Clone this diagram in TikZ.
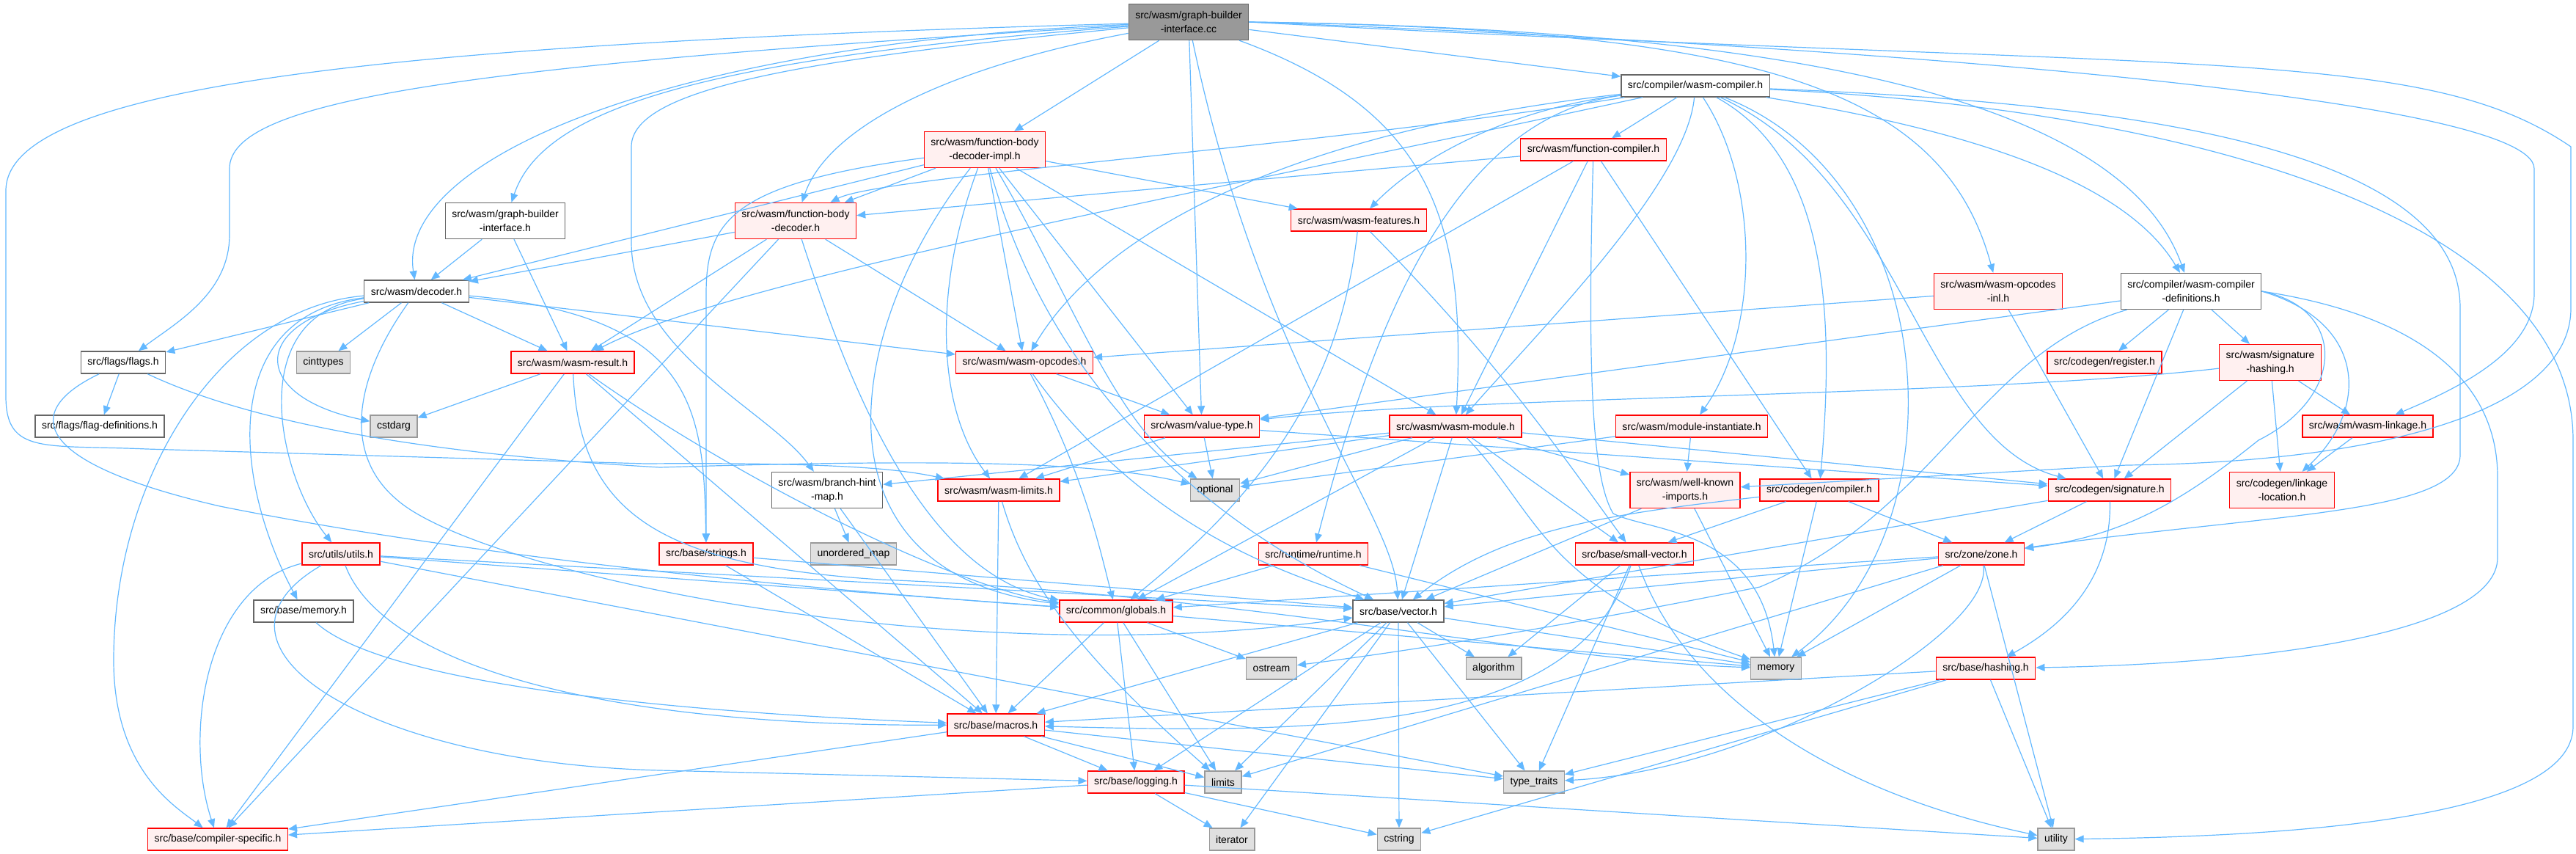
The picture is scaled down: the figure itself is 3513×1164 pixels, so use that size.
\documentclass[tikz,border=0pt]{standalone}
\usepackage{fontspec}
\newfontfamily\graphfont{Liberation Sans}
\usepackage{tikz}
\usetikzlibrary{arrows.meta}
\usepackage{xcolor}
\definecolor{depblue}{HTML}{63B8FF}
\definecolor{hdrfill}{HTML}{FFF0F0}
\definecolor{sysfill}{HTML}{E0E0E0}
\definecolor{sysline}{HTML}{999999}
\definecolor{plainline}{HTML}{666666}
\definecolor{rootfill}{HTML}{999999}

\begin{document}
\begin{tikzpicture}[x=1pt, y=-1pt,
  box/.style={draw, line width=1.4pt, inner xsep=9pt, inner ysep=0pt,
              minimum height=30pt, align=center,
              font=\graphfont\fontsize{14}{19}\selectfont},
  hdr/.style={box, draw=red, fill=hdrfill},
  sys/.style={box, draw=sysline, fill=sysfill},
  plainbox/.style={box, draw=plainline, fill=white},
  rootbox/.style={box, draw=plainline, fill=rootfill},
  tall/.style={minimum height=49pt},
  dep/.style={depblue, line width=1.2pt, -{Triangle[length=12pt, width=10pt]}}
]
  \useasboundingbox (0,0) rectangle (3513,1164);

  % headers
  \node[rootbox, tall] (root) at (1621,30) {src/wasm/graph-builder\\-interface.cc};
  \node[plainbox] (wcomp) at (2312,117) {src/compiler/wasm-compiler.h};
  \node[hdr, tall] (fbdimpl) at (1343,204) {src/wasm/function-body\\-decoder-impl.h};
  \node[hdr] (fcomp) at (2173,204) {src/wasm/function-compiler.h};
  \node[plainbox, tall] (gbih) at (689,301) {src/wasm/graph-builder\\-interface.h};
  \node[hdr, tall] (fbd) at (1085,301) {src/wasm/function-body\\-decoder.h};
  \node[hdr] (wfeat) at (1853,300) {src/wasm/wasm-features.h};
  \node[hdr, tall] (opinl) at (2725,397) {src/wasm/wasm-opcodes\\-inl.h};
  \node[plainbox, tall] (wcdefs) at (2988,397) {src/compiler/wasm-compiler\\-definitions.h};
  \node[plainbox] (decoder) at (568,397) {src/wasm/decoder.h};
  \node[plainbox] (flags) at (168,494) {src/flags/flags.h};
  \node[sys] (cinttypes) at (441,494) {cinttypes};
  \node[hdr] (wresult) at (781,494) {src/wasm/wasm-result.h};
  \node[hdr] (opcodes) at (1397,494) {src/wasm/wasm-opcodes.h};
  \node[hdr] (register) at (2870,494) {src/codegen/register.h};
  \node[hdr, tall] (sighash) at (3096,494) {src/wasm/signature\\-hashing.h};
  \node[plainbox] (flagdefs) at (136,581) {src/flags/flag-definitions.h};
  \node[sys] (cstdarg) at (537,581) {cstdarg};
  \node[hdr] (valtype) at (1639,581) {src/wasm/value-type.h};
  \node[hdr] (wmodule) at (1985,581) {src/wasm/wasm-module.h};
  \node[hdr] (instantiate) at (2307,581) {src/wasm/module-instantiate.h};
  \node[hdr] (wlinkage) at (3229,581) {src/wasm/wasm-linkage.h};
  \node[plainbox, tall] (bhint) at (1128,668) {src/wasm/branch-hint\\-map.h};
  \node[hdr] (wlimits) at (1362,668) {src/wasm/wasm-limits.h};
  \node[sys] (optional) at (1657,668) {optional};
  \node[hdr, tall] (wkimports) at (2298,668) {src/wasm/well-known\\-imports.h};
  \node[hdr] (cgcompiler) at (2481,668) {src/codegen/compiler.h};
  \node[hdr] (signature) at (2877,668) {src/codegen/signature.h};
  \node[hdr, tall] (linkloc) at (3112,668) {src/codegen/linkage\\-location.h};
  \node[hdr] (utils) at (465,755) {src/utils/utils.h};
  \node[hdr] (strings) at (963,755) {src/base/strings.h};
  \node[sys] (umap) at (1164,755) {unordered\_map};
  \node[hdr] (runtime) at (1791,755) {src/runtime/runtime.h};
  \node[hdr] (smallvec) at (2229,755) {src/base/small-vector.h};
  \node[hdr] (zone) at (2702,755) {src/zone/zone.h};
  \node[plainbox] (bmemory) at (414,833) {src/base/memory.h};
  \node[hdr] (globals) at (1522,833) {src/common/globals.h};
  \node[plainbox] (vector) at (1907,833) {src/base/vector.h};
  \node[sys] (ostream) at (1734,911) {ostream};
  \node[sys] (algorithm) at (2037,911) {algorithm};
  \node[sys] (memory) at (2422,911) {memory};
  \node[hdr] (hashing) at (2708,911) {src/base/hashing.h};
  \node[hdr] (macros) at (1358,988) {src/base/macros.h};
  \node[hdr] (logging) at (1549,1066) {src/base/logging.h};
  \node[sys] (limits) at (1668,1066) {limits};
  \node[sys] (typetraits) at (2092,1066) {type\_traits};
  \node[hdr] (cspecific) at (297,1144) {src/base/compiler-specific.h};
  \node[sys] (iterator) at (1680,1144) {iterator};
  \node[sys] (cstring) at (1908,1144) {cstring};
  \node[sys] (utility) at (2804,1144) {utility};

  % graph-builder-interface.cc
  \draw[dep] (root) .. controls (950,80) and (740,150) .. (gbih);
  \draw[dep] (root) .. controls (900,60) and (540,220) .. (decoder);
  \draw[dep] (root) .. controls (600,90) and (313,140) .. (313,230) -- (313,320)
    .. controls (313,400) and (240,440) .. (flags);
  \draw[dep] (root) .. controls (500,60) and (8,120) .. (8,260) -- (8,540)
    .. controls (8,620) and (60,606) .. (200,612) -- (880,632)
    .. controls (1150,630) and (1230,640) .. (wlimits);
  \draw[dep] (root) .. controls (1100,80) and (861,120) .. (861,200) -- (861,330)
    .. controls (861,480) and (1050,560) .. (bhint);
  \draw[dep] (root) .. controls (1300,90) and (1130,170) .. (fbd);
  \draw[dep] (root) -- (fbdimpl);
  \draw[dep] (root) -- (valtype);
  \draw[dep] (root) .. controls (1720,500) and (1900,700) .. (vector);
  \draw[dep] (root) .. controls (1950,150) and (2000,300) .. (wmodule);
  \draw[dep] (root) -- (wcomp);
  \draw[dep] (root.east) .. controls (2400,40) and (2650,120) .. (opinl);
  \draw[dep] (root.east) .. controls (2500,40) and (2900,150) .. (wcdefs);
  \draw[dep] (root.east) .. controls (2500,60) and (3456,130) .. (3456,230) -- (3456,400)
    .. controls (3456,480) and (3350,530) .. (wlinkage);
  \draw[dep] (root.east) .. controls (3000,100) and (3300,60) .. (3506,200) -- (3506,420)
    .. controls (3506,560) and (3250,630) .. (2900,634) -- (wkimports);

  % compiler/wasm-compiler.h
  \draw[dep] (wcomp) -- (fcomp);
  \draw[dep] (wcomp) .. controls (2050,150) and (1930,220) .. (wfeat);
  \draw[dep] (wcomp) .. controls (1800,200) and (1200,240) .. (fbd);
  \draw[dep] (wcomp) .. controls (1750,180) and (1500,320) .. (opcodes);
  \draw[dep] (wcomp) .. controls (1700,250) and (1000,380) .. (wresult);
  \draw[dep] (wcomp) .. controls (2300,250) and (2100,450) .. (wmodule);
  \draw[dep] (wcomp) .. controls (1980,160) and (1870,450) .. (runtime);
  \draw[dep] (wcomp) .. controls (2400,250) and (2400,450) .. (instantiate);
  \draw[dep] (wcomp) .. controls (2500,220) and (2500,450) .. (cgcompiler);
  \draw[dep] (wcomp) .. controls (2650,250) and (2680,720) .. (memory);
  \draw[dep] (wcomp) .. controls (2600,250) and (2620,600) .. (signature);
  \draw[dep] (wcomp) .. controls (2700,180) and (2900,250) .. (wcdefs);
  \draw[dep] (wcomp) .. controls (2900,140) and (3355,200) .. (3355,420) -- (3355,620)
    .. controls (3355,700) and (3100,700) .. (zone);
  \draw[dep] (wcomp) .. controls (3000,150) and (3509,300) .. (3509,600) -- (3509,990)
    .. controls (3509,1120) and (3100,1140) .. (utility);

  % function-body-decoder-impl.h
  \draw[dep] (fbdimpl) .. controls (1000,250) and (963,300) .. (963,400) -- (strings);
  \draw[dep] (fbdimpl) -- (decoder);
  \draw[dep] (fbdimpl) -- (fbd);
  \draw[dep] (fbdimpl) .. controls (1150,450) and (1100,780) .. (globals);
  \draw[dep] (fbdimpl) .. controls (1270,400) and (1280,560) .. (wlimits);
  \draw[dep] (fbdimpl) .. controls (1450,600) and (1750,760) .. (vector);
  \draw[dep] (fbdimpl) -- (opcodes);
  \draw[dep] (fbdimpl) -- (valtype);
  \draw[dep] (fbdimpl) .. controls (1460,400) and (1520,580) .. (optional);
  \draw[dep] (fbdimpl) -- (wmodule);
  \draw[dep] (fbdimpl) -- (wfeat);

  % function-compiler.h
  \draw[dep] (fcomp) -- (fbd);
  \draw[dep] (fcomp) -- (wlimits);
  \draw[dep] (fcomp) -- (wmodule);
  \draw[dep] (fcomp) -- (cgcompiler);
  \draw[dep] (fcomp) .. controls (2165,500) and (2170,650) .. (2200,700)
    .. controls (2250,725) and (2400,720) .. (memory);

  % graph-builder-interface.h, function-body-decoder.h
  \draw[dep] (gbih) -- (decoder);
  \draw[dep] (gbih) -- (wresult);
  \draw[dep] (fbd) -- (decoder);
  \draw[dep] (fbd) -- (wresult);
  \draw[dep] (fbd) -- (cspecific);
  \draw[dep] (fbd) .. controls (1150,500) and (1250,780) .. (globals);
  \draw[dep] (fbd) -- (opcodes);

  % wasm-features.h, wasm-opcodes-inl.h
  \draw[dep] (wfeat) .. controls (1830,500) and (1750,650) .. (globals);
  \draw[dep] (wfeat) .. controls (2050,500) and (2130,620) .. (smallvec);
  \draw[dep] (opinl) -- (opcodes);
  \draw[dep] (opinl) -- (signature);

  % wasm-compiler-definitions.h
  \draw[dep] (wcdefs) -- (valtype);
  \draw[dep] (wcdefs) .. controls (2700,480) and (2640,700) .. (2400,800)
    .. controls (2100,860) and (1900,890) .. (ostream);
  \draw[dep] (wcdefs) -- (register);
  \draw[dep] (wcdefs) -- (signature);
  \draw[dep] (wcdefs) -- (sighash);
  \draw[dep] (wcdefs.east) .. controls (3200,420) and (3200,540) .. (3080,600)
    .. controls (2980,680) and (2900,730) .. (zone);
  \draw[dep] (wcdefs.east) .. controls (3230,440) and (3230,560) .. (linkloc);
  \draw[dep] (wcdefs.east) .. controls (3300,430) and (3406,520) .. (3406,650) -- (3406,760)
    .. controls (3406,860) and (3100,905) .. (hashing);

  % decoder.h
  \draw[dep] (decoder) -- (flags);
  \draw[dep] (decoder) -- (cinttypes);
  \draw[dep] (decoder) -- (wresult);
  \draw[dep] (decoder) .. controls (340,440) and (340,540) .. (cstdarg);
  \draw[dep] (decoder) .. controls (330,430) and (380,650) .. (utils);
  \draw[dep] (decoder) .. controls (300,430) and (316,650) .. (bmemory);
  \draw[dep] (decoder) .. controls (300,420) and (155,650) .. (155,900)
    .. controls (155,1050) and (240,1100) .. (cspecific);
  \draw[dep] (decoder) -- (opcodes);
  \draw[dep] (decoder) .. controls (950,430) and (960,560) .. (strings);
  \draw[dep] (decoder) .. controls (480,520) and (470,620) .. (540,680)
    .. controls (650,780) and (1300,920) .. (vector);

  % flags.h, wasm-result.h
  \draw[dep] (flags) -- (flagdefs);
  \draw[dep] (flags) .. controls (30,560) and (40,630) .. (300,690)
    .. controls (700,770) and (1200,810) .. (globals);
  \draw[dep] (flags) .. controls (350,580) and (600,620) .. (900,637)
    .. controls (1300,625) and (1500,630) .. (optional);
  \draw[dep] (wresult) -- (cstdarg);
  \draw[dep] (wresult) -- (cspecific);
  \draw[dep] (wresult) -- (macros);
  \draw[dep] (wresult) .. controls (1000,650) and (1300,800) .. (globals);
  \draw[dep] (wresult) .. controls (790,700) and (900,770) .. (1200,790)
    .. controls (1700,810) and (2100,900) .. (memory);

  % wasm-opcodes.h, signature-hashing.h, value-type.h
  \draw[dep] (opcodes) -- (valtype);
  \draw[dep] (opcodes) .. controls (1480,650) and (1500,750) .. (globals);
  \draw[dep] (opcodes) .. controls (1560,720) and (1750,780) .. (vector);
  \draw[dep] (sighash) .. controls (2700,540) and (2000,540) .. (valtype);
  \draw[dep] (sighash) -- (signature);
  \draw[dep] (sighash) -- (wlinkage);
  \draw[dep] (sighash) -- (linkloc);
  \draw[dep] (valtype) -- (optional);
  \draw[dep] (valtype) -- (wlimits);
  \draw[dep] (valtype) -- (signature);

  % wasm-module.h, module-instantiate.h, wasm-linkage.h
  \draw[dep] (wmodule) -- (bhint);
  \draw[dep] (wmodule) -- (wlimits);
  \draw[dep] (wmodule) -- (optional);
  \draw[dep] (wmodule) -- (globals);
  \draw[dep] (wmodule) -- (vector);
  \draw[dep] (wmodule) -- (smallvec);
  \draw[dep] (wmodule) -- (wkimports);
  \draw[dep] (wmodule) -- (signature);
  \draw[dep] (wmodule) .. controls (2100,700) and (2100,800) .. (memory);
  \draw[dep] (instantiate) -- (optional);
  \draw[dep] (instantiate) -- (wkimports);
  \draw[dep] (wlinkage) -- (linkloc);

  % middle rows
  \draw[dep] (bhint) -- (umap);
  \draw[dep] (bhint) -- (macros);
  \draw[dep] (wlimits) -- (macros);
  \draw[dep] (wlimits) .. controls (1400,800) and (1480,900) .. (limits);
  \draw[dep] (wkimports) -- (vector);
  \draw[dep] (wkimports) -- (memory);
  \draw[dep] (cgcompiler) -- (smallvec);
  \draw[dep] (cgcompiler) .. controls (2200,700) and (2050,720) .. (vector);
  \draw[dep] (cgcompiler) -- (memory);
  \draw[dep] (cgcompiler) -- (zone);
  \draw[dep] (signature) -- (zone);
  \draw[dep] (signature) .. controls (2880,800) and (2800,860) .. (hashing);
  \draw[dep] (signature) -- (vector);

  % utils.h, strings.h, runtime.h
  \draw[dep] (utils) .. controls (280,800) and (250,1000) .. (cspecific);
  \draw[dep] (utils) .. controls (250,880) and (500,1040) .. (900,1050) -- (logging);
  \draw[dep] (utils) .. controls (520,900) and (800,990) .. (macros);
  \draw[dep] (utils) -- (vector);
  \draw[dep] (utils) -- (globals);
  \draw[dep] (utils) -- (typetraits);
  \draw[dep] (strings) -- (macros);
  \draw[dep] (strings) -- (vector);
  \draw[dep] (runtime) -- (globals);
  \draw[dep] (runtime) -- (memory);

  % small-vector.h, zone.h, memory.h
  \draw[dep] (smallvec) -- (algorithm);
  \draw[dep] (smallvec) -- (typetraits);
  \draw[dep] (smallvec) .. controls (2300,950) and (2500,1080) .. (utility);
  \draw[dep] (smallvec) .. controls (2150,1000) and (1800,1000) .. (macros);
  \draw[dep] (zone) -- (vector);
  \draw[dep] (zone) -- (globals);
  \draw[dep] (zone) -- (memory);
  \draw[dep] (zone) -- (utility);
  \draw[dep] (zone) .. controls (2720,860) and (2400,1050) .. (typetraits);
  \draw[dep] (zone) -- (limits);
  \draw[dep] (bmemory) .. controls (520,930) and (900,970) .. (macros);

  % globals.h, vector.h, hashing.h
  \draw[dep] (globals) -- (ostream);
  \draw[dep] (globals) -- (macros);
  \draw[dep] (globals) -- (logging);
  \draw[dep] (globals) -- (limits);
  \draw[dep] (globals) -- (memory);
  \draw[dep] (vector) -- (algorithm);
  \draw[dep] (vector) -- (typetraits);
  \draw[dep] (vector) -- (cstring);
  \draw[dep] (vector) -- (memory);
  \draw[dep] (vector) -- (macros);
  \draw[dep] (vector) -- (logging);
  \draw[dep] (vector) -- (limits);
  \draw[dep] (vector) -- (iterator);
  \draw[dep] (hashing) -- (macros);
  \draw[dep] (hashing) -- (typetraits);
  \draw[dep] (hashing) -- (utility);
  \draw[dep] (hashing) -- (cstring);

  % macros.h, logging.h
  \draw[dep] (macros) -- (cspecific);
  \draw[dep] (macros) -- (logging);
  \draw[dep] (macros) -- (limits);
  \draw[dep] (macros) -- (typetraits);
  \draw[dep] (logging) -- (cspecific);
  \draw[dep] (logging) -- (iterator);
  \draw[dep] (logging) -- (cstring);
  \draw[dep] (logging) -- (utility);
\end{tikzpicture}
\end{document}
